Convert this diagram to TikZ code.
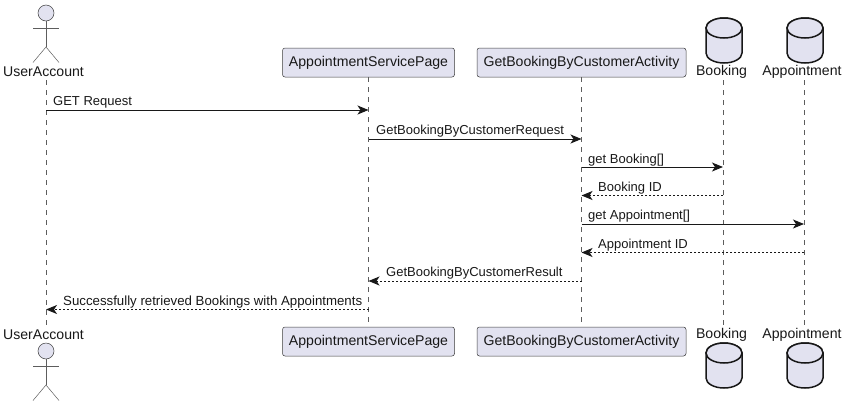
\documentclass[tikz,border=0pt]{standalone}
\usepackage{fontspec}
\setmainfont{Liberation Sans}
\usepackage[HTML]{xcolor}
\usetikzlibrary{positioning, arrows.meta}
\definecolor{partfill}{HTML}{E2E2F0}
\definecolor{partline}{HTML}{181818}

\begin{document}
\begin{tikzpicture}[x=1pt, y=-1pt,
  part/.style={draw=partline!85,fill=partfill,line width=0.5pt,rounded corners=2.5pt,minimum height=29pt,inner sep=0pt,font=\fontsize{14.1}{16}\selectfont,text=partline},
  partname/.style={inner sep=0pt,font=\fontsize{14.1}{16}\selectfont,text=partline},
  msgname/.style={inner sep=0pt,anchor=base west,font=\fontsize{13}{15}\selectfont,text=partline},
  life/.style={draw=partline!70,line width=0.5pt,dash pattern=on 5pt off 5pt},
  actorline/.style={draw=partline!70,line width=0.5pt},
  dbline/.style={draw=partline,fill=partfill,line width=1.5pt},
  call/.style={draw=partline,line width=1pt,-{Stealth[length=11pt,width=9pt,inset=3pt]}},
  reply/.style={draw=partline,line width=1pt,dash pattern=on 2pt off 2pt,-{Stealth[length=11pt,width=9pt,inset=3pt]}}]
\useasboundingbox (0,0) rectangle (846,407);

% Participants that have boxes
\node[part,minimum width=172pt] (pageTop) at (368.5,62.5) {AppointmentServicePage};
\node[part,minimum width=209pt] (actTop) at (581.5,62.5) {GetBookingByCustomerActivity};
\node[part,minimum width=172pt] (pageBot) at (368.5,341.5) {AppointmentServicePage};
\node[part,minimum width=209pt] (actBot) at (581.5,341.5) {GetBookingByCustomerActivity};

% Lifelines
\coordinate (userTop) at (46,80);
\coordinate (userBot) at (46,325);
\coordinate (bookTop) at (723,80);
\coordinate (bookBot) at (723,325);
\coordinate (apptTop) at (804,80);
\coordinate (apptBot) at (804,325);
\draw[life] (userTop) -- (userBot);
\draw[life] (pageTop) -- (pageBot);
\draw[life] (actTop) -- (actBot);
\draw[life] (bookTop) -- (bookBot);
\draw[life] (apptTop) -- (apptBot);

% Actor, top and bottom
\foreach \y/\name in {0/Top,338/Bot}{
  \node[circle,draw=partline!85,fill=partfill,line width=0.5pt,minimum size=16pt,inner sep=0pt] (head\name) at (46,13+\y) {};
  \draw[actorline] (head\name.south) -- ++(0,26);
  \draw[actorline] (33,28+\y) -- (59,28+\y);
  \draw[actorline] (33,62.5+\y) -- (46,47+\y) -- (59,62.5+\y);
}
\node[partname] at (43.5,71.5) {UserAccount};
\node[partname] at (43.5,334.5) {UserAccount};

% Databases, top and bottom
\foreach \x in {724,805}{
  \foreach \y in {28,353}{
    \draw[dbline] (\x-18,\y) arc[start angle=180,end angle=360,x radius=18,y radius=10]
      -- (\x+18,\y+25) arc[start angle=0,end angle=180,x radius=18,y radius=10] -- cycle;
    \draw[dbline] (\x,\y) ellipse[x radius=18,y radius=10];
  }
}
\node[partname] at (721.5,71.5) {Booking};
\node[partname] at (802,71.5) {Appointment};
\node[partname] at (721.5,334.5) {Booking};
\node[partname] at (802,334.5) {Appointment};

% Messages
\draw[call] (userTop |- 0,110) -- (pageTop |- 0,110);
\node[msgname] at (53,105.5) {GET Request};
\draw[call] (pageTop |- 0,139) -- (actTop |- 0,139);
\node[msgname] at (376,134) {GetBookingByCustomerRequest};
\draw[call] (actTop |- 0,167) -- (bookTop |- 0,167);
\node[msgname] at (588,163) {get Booking[]};
\draw[reply] (bookTop |- 0,195.5) -- (actTop |- 0,195.5);
\node[msgname] at (598,191) {Booking ID};
\draw[call] (actTop |- 0,224) -- (apptTop |- 0,224);
\node[msgname] at (588,219) {get Appointment[]};
\draw[reply] (apptTop |- 0,252.5) -- (actTop |- 0,252.5);
\node[msgname] at (598,248) {Appointment ID};
\draw[reply] (actTop |- 0,281) -- (pageTop |- 0,281);
\node[msgname] at (386,276) {GetBookingByCustomerResult};
\draw[reply] (pageTop |- 0,309.5) -- (userTop |- 0,309.5);
\node[msgname,font=\fontsize{13.25}{15}\selectfont] at (63,305) {Successfully retrieved Bookings with Appointments};
\end{tikzpicture}
\end{document}
